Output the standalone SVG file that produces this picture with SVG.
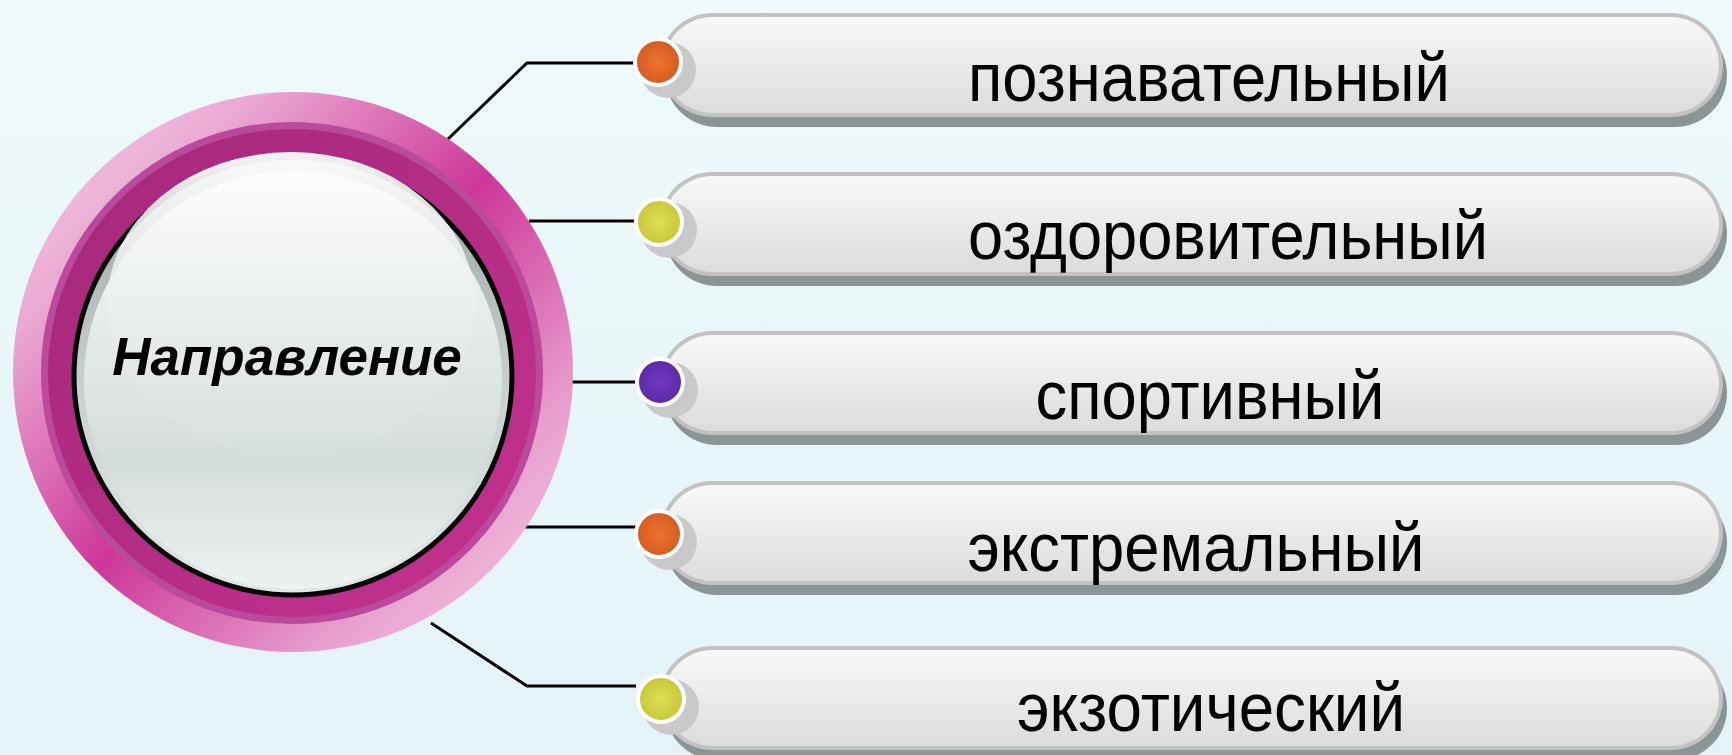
<svg xmlns="http://www.w3.org/2000/svg" width="1732" height="755" viewBox="0 0 1732 755">
<defs>
<linearGradient id="bg" x1="0" y1="0" x2="0" y2="1">
<stop offset="0" stop-color="#eefafb"/>
<stop offset="0.5" stop-color="#e9f6f8"/>
<stop offset="1" stop-color="#e5f3f9"/>
</linearGradient>
<linearGradient id="outer" x1="0" y1="0" x2="1" y2="1">
<stop offset="0" stop-color="#f8d6ea"/>
<stop offset="0.22" stop-color="#eaa8d2"/>
<stop offset="0.5" stop-color="#cd3799"/>
<stop offset="0.78" stop-color="#e8a2cf"/>
<stop offset="1" stop-color="#f6d2e8"/>
</linearGradient>
<linearGradient id="dark" x1="0" y1="0" x2="1" y2="1">
<stop offset="0" stop-color="#a3287a"/>
<stop offset="1" stop-color="#c3318f"/>
</linearGradient>
<linearGradient id="rim" x1="0" y1="0" x2="0" y2="1">
<stop offset="0" stop-color="#98a2a2"/>
<stop offset="0.5" stop-color="#c6cece"/>
<stop offset="1" stop-color="#e2e8e8"/>
</linearGradient>
<linearGradient id="face" x1="0" y1="0" x2="0" y2="1">
<stop offset="0" stop-color="#f9f9f9"/>
<stop offset="0.7" stop-color="#d5dcdc"/>
<stop offset="1" stop-color="#eef1f1"/>
</linearGradient>
<linearGradient id="hl" x1="0" y1="0" x2="0" y2="1">
<stop offset="0" stop-color="#ffffff" stop-opacity="0.95"/>
<stop offset="1" stop-color="#d8dfdf" stop-opacity="0.6"/>
</linearGradient>
<linearGradient id="pfill" x1="0" y1="0" x2="0" y2="1">
<stop offset="0" stop-color="#f8f8f8"/>
<stop offset="1" stop-color="#dcdcdc"/>
</linearGradient>
<radialGradient id="gOrange"><stop offset="0" stop-color="#ec722c"/><stop offset="1" stop-color="#d45c22"/></radialGradient>
<radialGradient id="gYellow"><stop offset="0" stop-color="#e0e054"/><stop offset="1" stop-color="#c6c63a"/></radialGradient>
<radialGradient id="gPurple"><stop offset="0" stop-color="#7038c2"/><stop offset="1" stop-color="#5a2aa6"/></radialGradient>
<style>
.pshadow{fill:#8b9595}
.pborder{fill:#c2c2c2}
.pfill{fill:url(#pfill)}
.dshadow{fill:#c9c9c9}
.dot{stroke:#ffffff;stroke-width:4}
.orange{fill:url(#gOrange)}
.yellow{fill:url(#gYellow)}
.purple{fill:url(#gPurple)}
.label{font-family:"Liberation Sans",Arial,sans-serif;font-size:69px;fill:#000;text-anchor:middle}
.title{font-family:"Liberation Sans",Arial,sans-serif;font-size:53px;font-weight:bold;font-style:italic;fill:#000;text-anchor:middle}
</style>
</defs>
<rect width="1732" height="755" fill="url(#bg)"/>

<g id="connectors" fill="none" stroke="#000" stroke-width="3">
<polyline points="448,139 527,63 636,63"/>
<line x1="529" y1="221" x2="636" y2="221"/>
<line x1="572" y1="382" x2="636" y2="382"/>
<line x1="525" y1="527" x2="636" y2="527"/>
<polyline points="431,623 527,686 636,686"/>
</g>

<g id="center">
<circle cx="293" cy="372" r="280" fill="url(#outer)"/>
<circle cx="292" cy="373" r="251" fill="#bb4a9c"/>
<circle cx="292" cy="373" r="244" fill="url(#dark)"/>
<circle cx="293" cy="376" r="219" fill="url(#rim)" stroke="#000" stroke-width="5"/>
<circle cx="293" cy="380" r="209" fill="url(#face)"/>
<ellipse cx="291" cy="304" rx="184" ry="152" fill="url(#hl)"/>
<text class="title" x="287" y="375">Направление</text>
</g>

<g id="node-1">
<rect class="pshadow" x="665" y="23" width="1062" height="104" rx="52"/>
<rect class="pborder" x="660" y="13" width="1063" height="104" rx="52"/>
<rect class="pfill" x="664" y="17" width="1055" height="96" rx="48"/>
<circle class="dshadow" cx="668" cy="70" r="28"/>
<circle class="dot orange" cx="658" cy="62" r="23"/>
<text class="label" x="1209" y="101" textLength="482" lengthAdjust="spacingAndGlyphs">познавательный</text>
</g>

<g id="node-2">
<rect class="pshadow" x="665" y="182" width="1062" height="104" rx="52"/>
<rect class="pborder" x="660" y="172" width="1063" height="104" rx="52"/>
<rect class="pfill" x="664" y="176" width="1055" height="96" rx="48"/>
<circle class="dshadow" cx="669" cy="230" r="28"/>
<circle class="dot yellow" cx="659" cy="222" r="23"/>
<text class="label" x="1228" y="259" textLength="520" lengthAdjust="spacingAndGlyphs">оздоровительный</text>
</g>

<g id="node-3">
<rect class="pshadow" x="665" y="341" width="1062" height="104" rx="52"/>
<rect class="pborder" x="660" y="331" width="1063" height="104" rx="52"/>
<rect class="pfill" x="664" y="335" width="1055" height="96" rx="48"/>
<circle class="dshadow" cx="670" cy="390" r="28"/>
<circle class="dot purple" cx="660" cy="382" r="23"/>
<text class="label" x="1210" y="419" textLength="349" lengthAdjust="spacingAndGlyphs">спортивный</text>
</g>

<g id="node-4">
<rect class="pshadow" x="665" y="491" width="1062" height="104" rx="52"/>
<rect class="pborder" x="660" y="481" width="1063" height="104" rx="52"/>
<rect class="pfill" x="664" y="485" width="1055" height="96" rx="48"/>
<circle class="dshadow" cx="669" cy="542" r="28"/>
<circle class="dot orange" cx="659" cy="534" r="23"/>
<text class="label" x="1196" y="571" textLength="457" lengthAdjust="spacingAndGlyphs">экстремальный</text>
</g>

<g id="node-5">
<rect class="pshadow" x="665" y="656" width="1062" height="104" rx="52"/>
<rect class="pborder" x="660" y="646" width="1063" height="104" rx="52"/>
<rect class="pfill" x="664" y="650" width="1055" height="96" rx="48"/>
<circle class="dshadow" cx="671" cy="707" r="28"/>
<circle class="dot yellow" cx="661" cy="699" r="23"/>
<text class="label" x="1211" y="731" textLength="388" lengthAdjust="spacingAndGlyphs">экзотический</text>
</g>
</svg>
